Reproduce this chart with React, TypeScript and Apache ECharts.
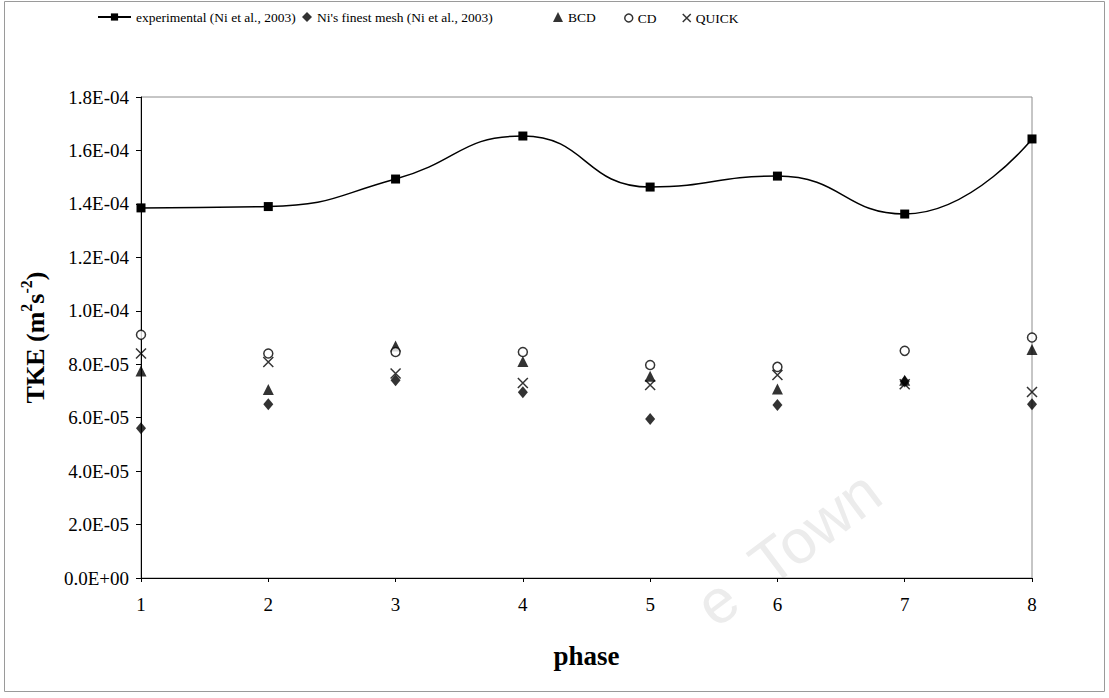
import React, { useEffect, useRef } from "react";
import * as echarts from "echarts";

// Phase numbers along the x axis
const phases = ["1", "2", "3", "4", "5", "6", "7", "8"];

// Turbulent kinetic energy (m^2 s^-2) per phase
const experimental = [1.385e-4, 1.39e-4, 1.493e-4, 1.654e-4, 1.463e-4, 1.504e-4, 1.362e-4, 1.643e-4];
const niFinestMesh = [5.6e-5, 6.5e-5, 7.4e-5, 6.95e-5, 5.95e-5, 6.47e-5, 7.35e-5, 6.5e-5];
const bcd = [7.75e-5, 7.05e-5, 8.68e-5, 8.1e-5, 7.55e-5, 7.07e-5, 7.4e-5, 8.55e-5];
const cd = [9.1e-5, 8.4e-5, 8.46e-5, 8.46e-5, 7.97e-5, 7.9e-5, 8.5e-5, 9.0e-5];
const quick = [8.4e-5, 8.08e-5, 7.65e-5, 7.3e-5, 7.22e-5, 7.6e-5, 7.25e-5, 6.96e-5];

const seriesNames = [
  "experimental (Ni et al., 2003)",
  "Ni's finest mesh (Ni et al., 2003)",
  "BCD",
  "CD",
  "QUICK",
];

const yMin = 0;
const yMax = 1.8e-4;
const yStep = 2e-5;

const FONT = "'Liberation Serif', 'Times New Roman', serif";
const CROSS = "path://M0,0L10,10M10,0L0,10";

// Excel-style scientific notation, e.g. 1.8E-04
function sci(v: number): string {
  const [m, e] = v.toExponential(1).split("e");
  const sign = e[0] === "-" ? "-" : "+";
  const digits = e.replace(/^[+-]/, "").padStart(2, "0");
  return `${m}E${sign}${digits}`;
}

export default function App() {
  const ref = useRef<HTMLDivElement>(null);

  useEffect(() => {
    if (!ref.current) return;
    const chart = echarts.init(ref.current, undefined, { renderer: "svg" });

    const legendText = { fontFamily: FONT, fontSize: 13.5, color: "#000" };
    const legendBase = { top: 5, textStyle: legendText, selectedMode: false as const };

    chart.setOption({
      animation: false,
      backgroundColor: "#fff",
      graphic: [
        {
          type: "rect",
          shape: { x: 4.5, y: 1.5, width: 1100, height: 690 },
          style: { fill: "none", stroke: "#9a9a9a", lineWidth: 1 },
          z: -20,
          silent: true,
        },
        {
          type: "text",
          x: 788,
          y: 548,
          rotation: (37 * Math.PI) / 180,
          style: {
            text: "e  Town",
            fontFamily: "'Liberation Sans', Arial, sans-serif",
            fontSize: 62,
            fill: "#ececec",
            align: "center",
            verticalAlign: "middle",
          },
          z: -10,
          silent: true,
        },
      ],
      legend: [
        {
          ...legendBase,
          left: 92,
          itemWidth: 33,
          itemHeight: 9,
          data: [seriesNames[0]],
        },
        {
          ...legendBase,
          left: 297,
          itemWidth: 10,
          itemHeight: 10,
          data: [seriesNames[1]],
        },
        {
          ...legendBase,
          left: 548,
          itemWidth: 10,
          itemHeight: 10,
          data: [seriesNames[2]],
        },
        {
          ...legendBase,
          left: 619,
          itemWidth: 8,
          itemHeight: 8,
          top: 6,
          data: [
            {
              name: seriesNames[3],
              itemStyle: { color: "#fff", borderColor: "#000", borderWidth: 1.5 },
            },
          ],
        },
        {
          ...legendBase,
          left: 677,
          itemWidth: 8,
          itemHeight: 8,
          top: 6,
          data: [
            {
              name: seriesNames[4],
              itemStyle: { color: "transparent", borderColor: "#000", borderWidth: 1.5 },
            },
          ],
        },
      ],
      grid: {
        left: 141,
        top: 97,
        right: 77,
        bottom: 120,
        show: true,
        borderColor: "#8c8c8c",
        borderWidth: 1,
        backgroundColor: "transparent",
      },
      xAxis: {
        type: "category",
        data: phases,
        boundaryGap: false,
        name: "phase",
        nameLocation: "middle",
        nameGap: 64,
        nameTextStyle: { fontFamily: FONT, fontSize: 27, fontWeight: "bold", color: "#000" },
        axisLine: { lineStyle: { color: "#000", width: 1 } },
        axisTick: { show: true, length: 4, lineStyle: { color: "#000" } },
        axisLabel: { fontFamily: FONT, fontSize: 19, color: "#000", margin: 17 },
        splitLine: { show: false },
      },
      yAxis: {
        type: "value",
        min: yMin,
        max: yMax,
        interval: yStep,
        name: "{b|TKE (m}{s|2}{b|s}{s|-2}{b|)}",
        nameLocation: "middle",
        nameGap: 93,
        nameRotate: 90,
        nameTextStyle: {
          rich: {
            b: { fontFamily: FONT, fontSize: 26, fontWeight: "bold", color: "#000", lineHeight: 30, verticalAlign: "bottom" },
            s: { fontFamily: FONT, fontSize: 16, fontWeight: "bold", color: "#000", lineHeight: 30, verticalAlign: "top" },
          },
        },
        axisLine: { show: true, lineStyle: { color: "#000", width: 1 } },
        axisTick: { show: true, length: 5, inside: false, lineStyle: { color: "#000" } },
        axisLabel: {
          fontFamily: FONT,
          fontSize: 19,
          color: "#000",
          margin: 12,
          formatter: (v: number) => sci(v),
        },
        splitLine: { show: false },
      },
      series: [
        {
          name: seriesNames[0],
          type: "line",
          data: experimental,
          smooth: 0.5,
          symbol: "rect",
          symbolSize: 9,
          lineStyle: { color: "#000", width: 1.5 },
          itemStyle: { color: "#000" },
          z: 5,
        },
        {
          name: seriesNames[1],
          type: "scatter",
          data: niFinestMesh,
          symbol: "diamond",
          symbolSize: [10, 12],
          itemStyle: { color: "#000" },
          z: 3,
        },
        {
          name: seriesNames[2],
          type: "scatter",
          data: bcd,
          symbol: "triangle",
          symbolSize: [11, 11],
          itemStyle: { color: "#000" },
          z: 4,
        },
        {
          name: seriesNames[3],
          type: "scatter",
          data: cd,
          symbol: "circle",
          symbolSize: 9,
          itemStyle: { color: "#fff", borderColor: "#000", borderWidth: 1.5 },
          z: 4,
        },
        {
          name: seriesNames[4],
          type: "scatter",
          data: quick,
          symbol: CROSS,
          symbolSize: 10,
          itemStyle: { color: "transparent", borderColor: "#000", borderWidth: 1.5 },
          z: 4,
        },
      ],
    });

    return () => chart.dispose();
  }, []);

  return (
    <div
      ref={ref}
      style={{ position: "fixed", left: 0, top: 0, width: 1109, height: 698, background: "#fff" }}
    />
  );
}
